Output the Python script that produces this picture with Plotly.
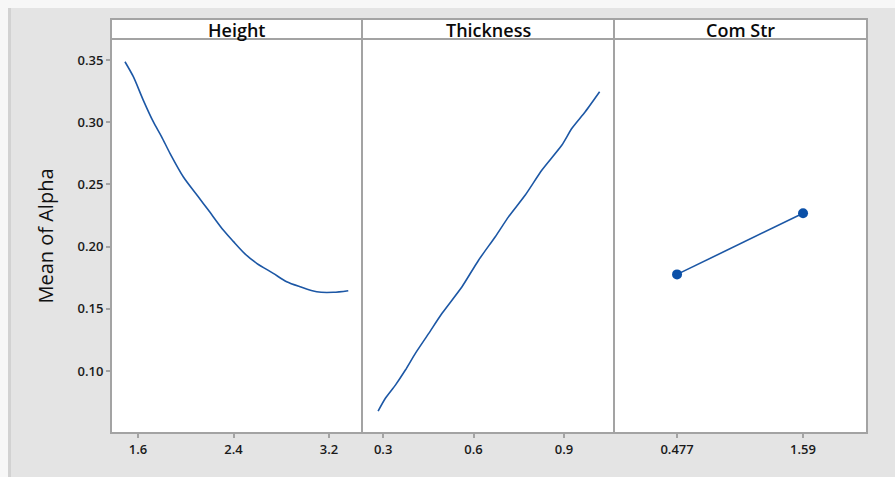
import plotly.graph_objects as go
from plotly.subplots import make_subplots

# Main-effects data for the response "Alpha"
height_x = [1.491, 1.561, 1.644, 1.728, 1.798, 1.868, 1.979, 2.105, 2.189, 2.314,
            2.398, 2.496, 2.594, 2.733, 2.845, 2.957, 3.097, 3.236, 3.361]
height_y = [0.3486, 0.3366, 0.3178, 0.3004, 0.2883, 0.2750, 0.2562, 0.2401, 0.2294, 0.2133,
            0.2042, 0.1942, 0.1866, 0.1785, 0.1718, 0.1678, 0.1637, 0.1633, 0.1646]

thick_x = [0.2834, 0.3076, 0.3408, 0.3739, 0.4071, 0.4515, 0.4956, 0.5618, 0.6172,
           0.6722, 0.7166, 0.7717, 0.8270, 0.8933, 0.9265, 0.9706, 1.0183]
thick_y = [0.0678, 0.0781, 0.0887, 0.1008, 0.1142, 0.1303, 0.1464, 0.1678, 0.1893,
           0.2080, 0.2241, 0.2415, 0.2616, 0.2817, 0.2951, 0.3084, 0.3245]

comstr_x = [0.477, 1.59]
comstr_y = [0.1777, 0.2268]

panel_titles = ["Height", "Thickness", "Com Str"]
y_ticks = [0.10, 0.15, 0.20, 0.25, 0.30, 0.35]
height_ticks = [1.6, 2.4, 3.2]
thick_ticks = [0.3, 0.6, 0.9]
comstr_ticks = [0.477, 1.59]

W, H = 895, 477
LINE = "#1c57a5"
FRAME = "#a3a3a3"
FONT = "Open Sans, Noto Sans, sans-serif"

# panel geometry in pixels
left, d1, d2, right = 111, 362, 614, 867
band_top, plot_top, plot_bot = 19, 39, 433

def px(x):
    return x / W

def py(y):
    return 1 - y / H

fig = make_subplots(rows=1, cols=3, shared_yaxes=True, horizontal_spacing=0)

fig.add_trace(go.Scatter(x=height_x, y=height_y, mode="lines",
                         line=dict(color=LINE, width=1.6, shape="spline", smoothing=0.8)),
              row=1, col=1)
fig.add_trace(go.Scatter(x=thick_x, y=thick_y, mode="lines",
                         line=dict(color=LINE, width=1.6, shape="spline", smoothing=0.6)),
              row=1, col=2)
fig.add_trace(go.Scatter(x=comstr_x, y=comstr_y, mode="lines+markers",
                         line=dict(color=LINE, width=1.6),
                         marker=dict(color="#0b50a8", size=10)), row=1, col=3)

tick_font = dict(family=FONT, size=13, color="#1a1a1a", weight=600)
axis_common = dict(showgrid=False, zeroline=False, showline=False, ticks="outside",
                   ticklen=4, tickwidth=1.5, tickcolor=FRAME, tickfont=tick_font)

doms = [(left, d1), (d1, d2), (d2, right)]
ranges = [[1.374, 3.476], [0.230, 1.066], [-0.08, 2.155]]
tvals = [height_ticks, thick_ticks, comstr_ticks]
ttext = [["1.6", "2.4", "3.2"], ["0.3", "0.6", "0.9"], ["0.477", "1.59"]]
for i in range(3):
    key = "xaxis" if i == 0 else f"xaxis{i+1}"
    fig.layout[key].update(domain=[px(doms[i][0]), px(doms[i][1])], range=ranges[i],
                           tickvals=tvals[i], ticktext=ttext[i], **axis_common)

fig.update_yaxes(range=[0.0502, 0.3669], domain=[py(plot_bot), py(plot_top)],
                 tickvals=y_ticks, ticktext=["0.10", "0.15", "0.20", "0.25", "0.30", "0.35"],
                 **axis_common)
fig.update_yaxes(ticks="", showticklabels=False, row=1, col=2)
fig.update_yaxes(ticks="", showticklabels=False, row=1, col=3)
fig.layout.yaxis.title = dict(text="Mean of Alpha", standoff=18,
                              font=dict(family=FONT, size=20, color="#111111"))

shapes = []
# outer page strips
shapes.append(dict(type="rect", xref="paper", yref="paper", x0=0, x1=1, y0=py(8), y1=1,
                   fillcolor="#f7f7f7", line_width=0, layer="below"))
shapes.append(dict(type="rect", xref="paper", yref="paper", x0=0, x1=px(8), y0=0, y1=1,
                   fillcolor="#f7f7f7", line_width=0, layer="below"))
shapes.append(dict(type="rect", xref="paper", yref="paper", x0=px(8), x1=px(11), y0=0, y1=py(8),
                   fillcolor="#d2d2d2", line_width=0, layer="below"))
# white plotting region
shapes.append(dict(type="rect", xref="paper", yref="paper", x0=px(left), x1=px(right),
                   y0=py(plot_bot), y1=py(band_top), fillcolor="white", line_width=0, layer="below"))
# panel frames and header bands
for a, b in doms:
    shapes.append(dict(type="rect", xref="paper", yref="paper", x0=px(a), x1=px(b),
                       y0=py(plot_bot), y1=py(plot_top), line=dict(color=FRAME, width=2)))
    shapes.append(dict(type="rect", xref="paper", yref="paper", x0=px(a), x1=px(b),
                       y0=py(plot_top), y1=py(band_top), line=dict(color=FRAME, width=2)))
fig.update_layout(shapes=shapes)

for (a, b), t in zip(doms, panel_titles):
    fig.add_annotation(text=t, x=px((a + b) / 2), y=py((band_top + plot_top) / 2 + 1),
                       xref="paper", yref="paper", xanchor="center", yanchor="middle",
                       showarrow=False,
                       font=dict(family=FONT, size=18, color="#0a0a0a", weight=600))

fig.update_layout(width=W, height=H, margin=dict(l=0, r=0, t=0, b=0),
                  paper_bgcolor="#e4e4e4", plot_bgcolor="white", showlegend=False)

fig.write_html("out.html")
